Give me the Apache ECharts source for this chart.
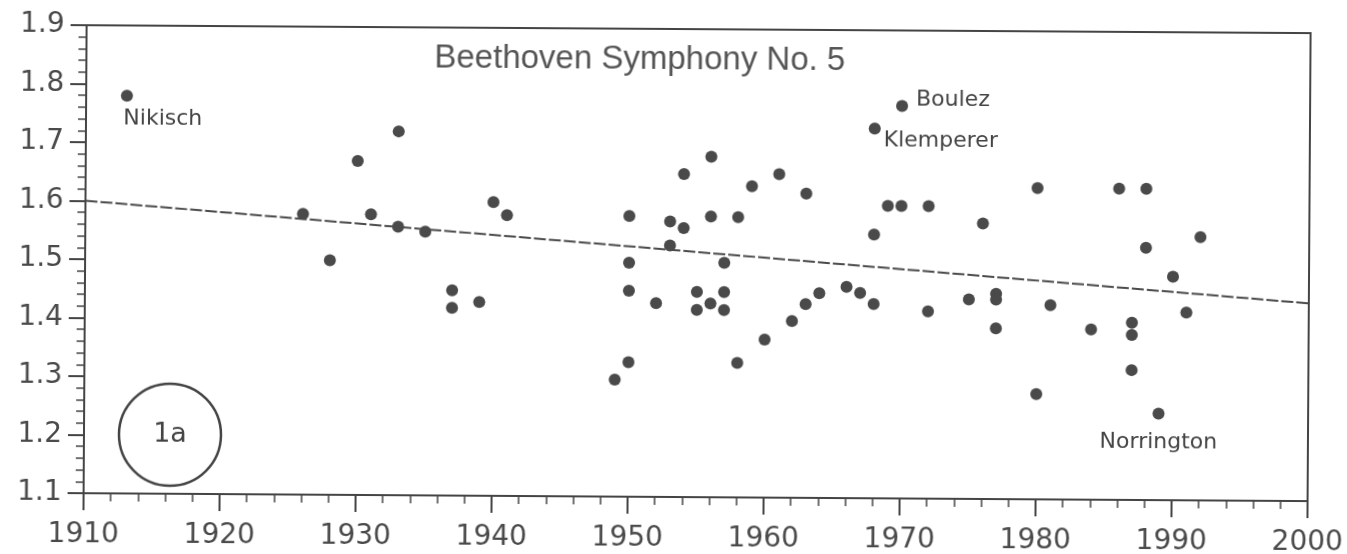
<!DOCTYPE html>
<html>
<head>
<meta charset="utf-8">
<script src="https://cdn.jsdelivr.net/npm/echarts@6/dist/echarts.min.js"></script>
<style>
    html, body { margin: 0; padding: 0; background: #fff; }
    #chart { width: 1347px; height: 554px; transform: rotate(0.37deg); }
</style>
</head>
<body>
<div id="chart"></div>
<script>
// recordings: year of recording vs. ratio
const years = [
    1926, 1928, 1930, 1931, 1933, 1933, 1935, 1937, 1937, 1939, 1940, 1941,
    1949, 1950, 1950, 1950, 1950, 1952, 1953, 1953, 1954, 1954, 1955, 1955,
    1956, 1956, 1956, 1957, 1957, 1957, 1958, 1958, 1959, 1960, 1961, 1962,
    1963, 1963, 1964, 1966, 1967, 1968, 1968, 1969, 1970, 1972, 1972, 1975,
    1976, 1977, 1977, 1977, 1980, 1980, 1981, 1984, 1986, 1987, 1987, 1987,
    1988, 1988, 1990, 1991, 1992
]
const ratios = [
    1.580, 1.501, 1.671, 1.580, 1.722, 1.559, 1.551, 1.451, 1.421, 1.431, 1.602, 1.580,
    1.300, 1.580, 1.500, 1.452, 1.330, 1.431, 1.571, 1.530, 1.652, 1.560, 1.451, 1.420,
    1.682, 1.580, 1.431, 1.501, 1.451, 1.420, 1.579, 1.330, 1.632, 1.370, 1.653, 1.402,
    1.620, 1.431, 1.450, 1.461, 1.451, 1.551, 1.432, 1.600, 1.600, 1.600, 1.420, 1.441,
    1.571, 1.451, 1.441, 1.392, 1.632, 1.280, 1.432, 1.391, 1.632, 1.403, 1.382, 1.322,
    1.632, 1.531, 1.482, 1.421, 1.550
]

// named conductors
const conductors = ['Nikisch', 'Klemperer', 'Boulez', 'Norrington']
const conductorYears = [1913, 1968, 1970, 1989]
const conductorRatios = [1.780, 1.732, 1.771, 1.248]

// regression line ends
const trendYears = [1910, 2000]
const trendRatios = [1.600, 1.438]

const xTicks = { min: 1910, max: 2000, interval: 10 }
const yTicks = { min: 1.1, max: 1.9, interval: 0.1 }

const dotColor = '#4a4a4a'
const inkColor = '#444'

// label placement for each named dot
const labelStyles = {
    Nikisch: { position: 'bottom', distance: 6, offset: [36, 0] },
    Klemperer: { position: 'right', distance: 3, offset: [0, 12] },
    Boulez: { position: 'right', distance: 8, offset: [0, -6] },
    Norrington: { position: 'bottom', distance: 12, offset: [0, 0] },
}

const chart = echarts.init(document.getElementById('chart'))

const option = {
    animation: false,
    backgroundColor: '#fff',
    title: {
        text: 'Beethoven Symphony No. 5',
        left: 428,
        top: 38,
        textStyle: {
            fontFamily: 'Liberation Sans',
            fontSize: 33,
            fontWeight: 'normal',
            color: '#555',
        },
    },
    grid: {
        left: 85,
        right: 38,
        top: 29,
        bottom: 57,
        containLabel: false,
        outerBoundsMode: 'none',
        show: true,
        borderColor: inkColor,
        borderWidth: 2,
        backgroundColor: 'transparent',
    },
    xAxis: {
        type: 'value',
        min: xTicks.min,
        max: xTicks.max,
        interval: xTicks.interval,
        axisLine: { show: true, lineStyle: { color: inkColor, width: 2 } },
        axisTick: { show: true, inside: false, length: 17, lineStyle: { color: inkColor, width: 2 } },
        minorTick: { show: true, splitNumber: 5, length: 8, lineStyle: { color: inkColor, width: 1.5 } },
        splitLine: { show: false },
        axisLabel: {
            margin: 28,
            fontFamily: 'DejaVu Sans',
            fontSize: 28,
            color: '#4a4a4a',
            formatter: (v) => String(v),
        },
    },
    yAxis: {
        type: 'value',
        min: yTicks.min,
        max: yTicks.max,
        interval: yTicks.interval,
        axisLine: { show: true, lineStyle: { color: inkColor, width: 2 } },
        axisTick: { show: true, inside: false, length: 16, lineStyle: { color: inkColor, width: 2 } },
        minorTick: { show: true, splitNumber: 5, length: 8, lineStyle: { color: inkColor, width: 1.5 } },
        splitLine: { show: false },
        axisLabel: {
            margin: 22,
            fontFamily: 'DejaVu Sans',
            fontSize: 28,
            color: '#4a4a4a',
            formatter: (v) => v.toFixed(1),
        },
    },
    graphic: [
        {
            type: 'circle',
            shape: { cx: 171, cy: 438, r: 51 },
            style: { fill: 'none', stroke: inkColor, lineWidth: 2.5 },
        },
        {
            type: 'text',
            x: 171,
            y: 438,
            style: {
                text: '1a',
                fontFamily: 'DejaVu Sans',
                fontSize: 27,
                fill: '#444',
                align: 'center',
                verticalAlign: 'middle',
            },
        },
    ],
    series: [
        {
            name: 'trend',
            type: 'line',
            data: trendYears.map((y, i) => [y, trendRatios[i]]),
            symbol: 'none',
            lineStyle: { color: '#4a4a4a', width: 2, type: [12, 3] },
            z: 1,
        },
        {
            name: 'recordings',
            type: 'scatter',
            data: years.map((y, i) => [y, ratios[i]]),
            symbolSize: 12,
            itemStyle: { color: dotColor, opacity: 1 },
            z: 3,
        },
        {
            name: 'named',
            type: 'scatter',
            data: conductors.map((name, i) => ({
                name: name,
                value: [conductorYears[i], conductorRatios[i]],
                label: labelStyles[name],
            })),
            symbolSize: 12,
            itemStyle: { color: dotColor, opacity: 1 },
            label: {
                show: true,
                formatter: '{b}',
                fontFamily: 'DejaVu Sans',
                fontSize: 22,
                color: '#444',
            },
            z: 3,
        },
    ],
}

chart.setOption(option)
</script>
</body>
</html>
